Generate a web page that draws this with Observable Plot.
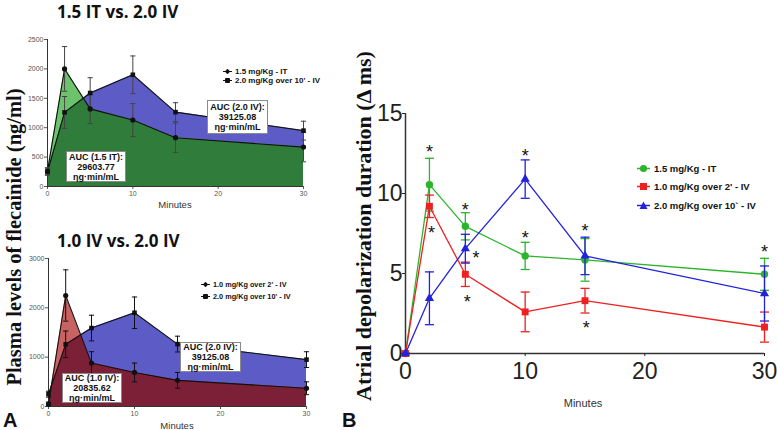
<!DOCTYPE html>
<html><head><meta charset="utf-8">
<script src="https://cdn.jsdelivr.net/npm/d3@7"></script>
<script src="https://cdn.jsdelivr.net/npm/@observablehq/plot@0.6"></script>
<style>
body{margin:0;background:#fff;}
#root{position:relative;width:777px;height:430px;overflow:hidden;background:#fff;font-family:Arial,"Liberation Sans",sans-serif;}
.abs{position:absolute;white-space:nowrap;}
.plot{position:absolute;}
.title{font-family:"Open Sans",sans-serif;font-weight:700;font-size:17px;line-height:18px;color:#111;}
.auc{position:absolute;background:#fff;border:1px solid #8a8a8a;font:bold 9px Arial,"Liberation Sans",sans-serif;text-align:center;line-height:10px;box-sizing:border-box;display:flex;flex-direction:column;justify-content:center;color:#111;white-space:nowrap;}
.ylab{font-family:"Liberation Serif","Times New Roman",serif;font-weight:700;line-height:24px;color:#111;transform:translate(-50%,-50%) rotate(-90deg);}
.lab{font-family:Arial,"Liberation Sans",sans-serif;color:#333;transform:translate(-50%,-50%);}
.leg{display:flex;align-items:center;font-weight:700;color:#111;transform:translateY(-50%);}
.letter{font:bold 20px Arial,"Liberation Sans",sans-serif;line-height:20px;color:#111;}
</style></head>
<body><div id="root"></div>
<script>
// ---------- Panel A data (plasma levels, ng/ml) ----------
const minutes = [0, 2, 5, 10, 15, 30];
const it15 = [260, 2000, 1320, 1130, 830, 670];
const it15Err = [60, 380, 250, 280, 250, 250];
const iv20 = [250, 1260, 1590, 1900, 1265, 950];
const iv20Err = [60, 270, 260, 320, 160, 160];
const iv10 = [50, 2250, 880, 690, 530, 370];
const iv10Err = [40, 520, 230, 190, 160, 130];
// outline of the overlap (dark) region
const overlapTopT = [0, 2, 4.2, 5, 10, 15, 30];
const overlapTopV = [250, 1260, 1500, 1320, 1130, 830, 670];
const overlapBotT = [0, 0.35, 2, 3.75, 5, 10, 15, 30];
const overlapBotV = [50, 420, 1260, 1450, 880, 690, 530, 370];
const yTicksTop = [0, 500, 1000, 1500, 2000, 2500];
const yTicksBot = [0, 1000, 2000, 3000];
const xTicks = [0, 10, 20, 30];

// ---------- Panel B data (atrial depolarization, Δ ms) ----------
const bIT = [0, 10.55, 7.95, 6.1, 5.85, 4.95];
const bITErr = [0, 1.65, 0.85, 0.85, 1.33, 1.0];
const bIV10 = [0, 9.2, 4.95, 2.6, 3.3, 1.65];
const bIV10Err = [0, 0.7, 0.76, 1.24, 0.77, 0.94];
const bIV20 = [0, 3.45, 6.55, 10.9, 6.1, 3.75];
const bIV20Err = [0, 1.65, 0.9, 1.2, 1.17, 1.72];
const starT = [2, 2.17, 5, 5.9, 5.15, 10, 10, 15, 15.1, 30];
const starV = [12.9, 7.8, 9.27, 6.25, 3.54, 12.65, 7.54, 7.98, 1.88, 6.67];
const yTicksB = [0, 5, 10, 15];

const capSymbol = {draw(ctx, size) { const w = Math.sqrt(size / Math.PI); ctx.moveTo(-w, 0); ctx.lineTo(w, 0); }};
const rows = (vals, errs) => minutes.map((t, i) => ({t, v: vals[i], e: errs[i]}));

function panelA(cfg) {
  const a = rows(cfg.first, cfg.firstErr);
  const b = rows(iv20, iv20Err);
  const ov = cfg.ovT.map((t, i) => ({t, v: cfg.ovV[i]}));
  const errMarks = (data, color) => [
    Plot.ruleX(data, {x: "t", y1: d => d.v - d.e, y2: d => d.v + d.e, stroke: color, strokeWidth: 1}),
    Plot.dot(data, {x: "t", y: d => d.v + d.e, symbol: capSymbol, r: 2.6, stroke: color, fill: "none", strokeWidth: 1}),
    Plot.dot(data, {x: "t", y: d => d.v - d.e, symbol: capSymbol, r: 2.6, stroke: color, fill: "none", strokeWidth: 1})
  ];
  return Plot.plot({
    width: 340, height: 215,
    marginLeft: cfg.ml, marginRight: cfg.mr, marginTop: cfg.mt, marginBottom: cfg.mb,
    style: {fontSize: "7px", fontFamily: "Arial, 'Liberation Sans', sans-serif", color: "#555", background: "transparent"},
    x: {domain: [0, 30], ticks: xTicks, tickSize: 3, tickPadding: 2, label: null, tickFormat: d => String(d)},
    y: {domain: [0, cfg.ymax], ticks: cfg.yticks, tickSize: 3, tickPadding: 1, label: null, tickFormat: d => String(d)},
    marks: [
      Plot.areaY(b, {x: "t", y: "v", fill: "#5d5cc6"}),
      Plot.areaY(a, {x: "t", y: "v", fill: cfg.lightFill}),
      Plot.areaY(ov, {x: "t", y: "v", fill: cfg.darkFill}),
      Plot.ruleX([0], {stroke: "#333"}),
      Plot.ruleY([0], {stroke: "#333"}),
      Plot.line(b, {x: "t", y: "v", stroke: "#111", strokeWidth: 1.1}),
      Plot.line(a, {x: "t", y: "v", stroke: "#111", strokeWidth: 1.1}),
      ...errMarks(b, cfg.errColor),
      ...errMarks(a, cfg.errColor),
      Plot.dot(b, {x: "t", y: "v", symbol: "square", r: 2.6, fill: "#111"}),
      Plot.dot(a, {x: "t", y: "v", symbol: "circle", r: 2.6, fill: "#111"})
    ]
  });
}

const root = document.getElementById("root");
function place(node, left, top) { node.classList.add("plot"); node.style.left = left + "px"; node.style.top = top + "px"; root.appendChild(node); }

place(panelA({first: it15, firstErr: it15Err, ovT: overlapTopT, ovV: overlapTopV, ymax: 2500, yticks: yTicksTop,
  lightFill: "#6cc36c", darkFill: "#2f7c3b", errColor: "#444", ml: 47, mr: 37, mt: 39, mb: 29}), 0, 0);
place(panelA({first: iv10, firstErr: iv10Err, ovT: overlapBotT, ovV: overlapBotV, ymax: 3000, yticks: yTicksBot,
  lightFill: "#c96262", darkFill: "#7b2037", errColor: "#111", ml: 48, mr: 34, mt: 43, mb: 24}), 0, 215);

// Panel B
const series = [
  {vals: bIT, errs: bITErr, color: "#2cb52c", symbol: "circle", r: 3.7},
  {vals: bIV10, errs: bIV10Err, color: "#ee2020", symbol: "square", r: 3.9},
  {vals: bIV20, errs: bIV20Err, color: "#2222dd", symbol: "triangle", r: 3.4}
];
const bMarks = [Plot.ruleX([0], {stroke: "#333", strokeWidth: 1.5}), Plot.ruleY([0], {stroke: "#333", strokeWidth: 1.5})];
for (const s of series) {
  const d = rows(s.vals, s.errs);
  bMarks.push(
    Plot.line(d, {x: "t", y: "v", stroke: s.color, strokeWidth: 1.3}),
    Plot.ruleX(d, {x: "t", y1: q => q.v - q.e, y2: q => q.v + q.e, stroke: s.color, strokeWidth: 1.3}),
    Plot.dot(d, {x: "t", y: q => q.v + q.e, symbol: capSymbol, r: 4.5, stroke: s.color, fill: "none", strokeWidth: 1.3}),
    Plot.dot(d, {x: "t", y: q => q.v - q.e, symbol: capSymbol, r: 4.5, stroke: s.color, fill: "none", strokeWidth: 1.3}),
    Plot.dot(d, {x: "t", y: "v", symbol: s.symbol, r: s.r, fill: s.color})
  );
}
const stars = starT.map((t, i) => ({t, v: starV[i]}));
bMarks.push(Plot.text(stars, {x: "t", y: "v", text: () => "*", fontSize: 18, fill: "#111", dy: 5}));
place(Plot.plot({
  width: 437, height: 430, marginLeft: 65, marginRight: 13, marginTop: 113, marginBottom: 77,
  style: {fontSize: "23px", fontFamily: "Arial, 'Liberation Sans', sans-serif", color: "#222", background: "transparent"},
  x: {domain: [0, 30], ticks: xTicks, tickSize: 3, tickPadding: 6, label: null, tickFormat: d => String(d)},
  y: {domain: [0, 15], ticks: yTicksB, tickSize: 3, tickPadding: 0, label: null, tickFormat: d => String(d)},
  marks: bMarks
}), 340, 0);

// ---------- text and annotations ----------
function div(cls, html, css) { const e = document.createElement("div"); e.className = cls; e.innerHTML = html; Object.assign(e.style, css); root.appendChild(e); return e; }
div("abs title", "1.5 IT vs. 2.0 IV", {left: "57px", top: "3px"});
div("abs title", "1.0 IV vs. 2.0 IV", {left: "57px", top: "232px"});
div("abs ylab", "Plasma levels of flecainide (ng/ml)", {left: "14px", top: "237px", fontSize: "20.5px"});
div("abs ylab", "Atrial depolarization duration (Δ ms)", {left: "364px", top: "226px", fontSize: "22px"});
div("abs letter", "A", {left: "3px", top: "410px"});
div("abs letter", "B", {left: "342px", top: "410px"});
div("abs lab", "Minutes", {left: "175px", top: "204px", fontSize: "9.5px"});
div("abs lab", "Minutes", {left: "177px", top: "425px", fontSize: "9.5px"});
div("abs lab", "Minutes", {left: "583px", top: "403px", fontSize: "11px"});

const aucs = [
  ["AUC (2.0 IV):", "39125.08", 207, 100, 61, 34],
  ["AUC (1.5 IT):", "29603.77", 66, 151, 60, 31],
  ["AUC (1.0 IV):", "20835.62", 62, 373, 60, 30],
  ["AUC (2.0 IV):", "39125.08", 180, 342, 61, 30]
];
for (const [a, b, l, t, w, h] of aucs) {
  div("auc", `<div>${a}</div><div>${b}</div><div>ηg·min/mL</div>`, {left: l + "px", top: t + "px", width: w + "px", height: h + "px"});
}

const diamond = '<svg width="9" height="6" style="margin-right:3px"><line x1="0" y1="3" x2="9" y2="3" stroke="#111" stroke-width="1"/><path d="M4.5 0.3 L7.2 3 L4.5 5.7 L1.8 3Z" fill="#111"/></svg>';
const squareA = '<svg width="9" height="6" style="margin-right:3px"><line x1="0" y1="3" x2="9" y2="3" stroke="#111" stroke-width="1"/><rect x="2" y="0.5" width="5" height="5" rx="1" fill="#111"/></svg>';
const legA = [
  [diamond, "1.5 mg/Kg - IT", 223, 71, 8],
  [squareA, "2.0 mg/Kg over 10' - IV", 223, 80, 8],
  [diamond, "1.0 mg/Kg over 2' - IV", 201, 284, 7.3],
  [squareA, "2.0 mg/Kg over 10' - IV", 201, 296, 7.3]
];
for (const [sym, txt, l, t, fs] of legA) div("abs leg", sym + txt, {left: l + "px", top: t + "px", fontSize: fs + "px"});

const bSyms = [
  '<svg width="13" height="10" style="margin-right:4px"><line x1="0" y1="5" x2="13" y2="5" stroke="#2cb52c" stroke-width="1.3"/><circle cx="6.5" cy="5" r="3.6" fill="#2cb52c"/></svg>',
  '<svg width="13" height="10" style="margin-right:4px"><line x1="0" y1="5" x2="13" y2="5" stroke="#ee2020" stroke-width="1.3"/><rect x="3" y="1.5" width="7" height="7" fill="#ee2020"/></svg>',
  '<svg width="13" height="10" style="margin-right:4px"><line x1="0" y1="5" x2="13" y2="5" stroke="#2222dd" stroke-width="1.3"/><path d="M6.5 1 L10.5 8.5 L2.5 8.5Z" fill="#2222dd"/></svg>'
];
const bLabels = ["1.5 mg/Kg - IT", "1.0 mg/Kg over 2' - IV", "2.0 mg/Kg over 10` - IV"];
const bRowsY = [168, 186, 205];
bLabels.forEach((txt, i) => div("abs leg", bSyms[i] + txt, {left: "637px", top: bRowsY[i] + "px", fontSize: "9.5px"}));
</script>
</body></html>
